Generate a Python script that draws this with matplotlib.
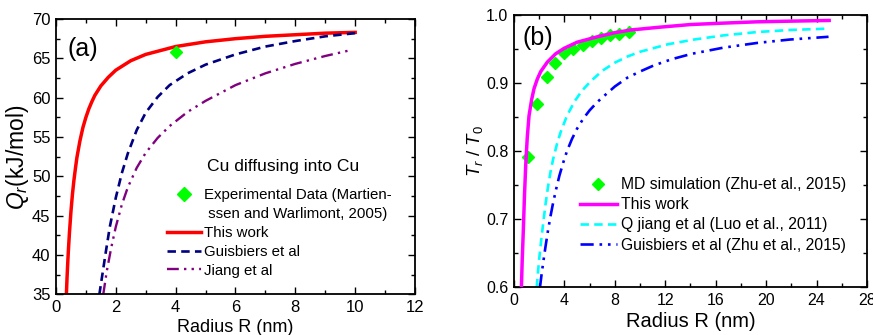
import numpy as np
import matplotlib
matplotlib.use('Agg')
import matplotlib.pyplot as plt
from matplotlib.lines import Line2D
from matplotlib.ticker import MultipleLocator, FormatStrFormatter

plt.rcParams['font.family'] = ['Liberation Sans', 'DejaVu Sans']
plt.rcParams['mathtext.fontset'] = 'custom'
plt.rcParams['mathtext.rm'] = 'Liberation Sans'
plt.rcParams['mathtext.it'] = 'Liberation Sans:italic'

# ---- panel (a): activation energy vs radius ----
R_this_a = [0.34, 0.37, 0.4, 0.42, 0.45, 0.5, 0.55, 0.6, 0.65, 0.7, 0.8, 0.9, 1.0, 1.1, 1.2, 1.3,
            1.5, 1.75, 2.0, 2.5, 3.0, 4.0, 5.0, 6.0, 7.0, 8.0, 9.0, 10.0]
Q_this_a = [34.2, 37.1, 39.5, 40.9, 42.8, 45.5, 47.7, 49.5, 51.0, 52.4, 54.5, 56.2, 57.5, 58.6, 59.5, 60.3,
            61.5, 62.6, 63.5, 64.7, 65.5, 66.5, 67.1, 67.5, 67.8, 68.0, 68.2, 68.3]
R_guis_a = [1.45, 1.55, 1.67, 1.8, 2.0, 2.2, 2.4, 2.7, 3.0, 3.4, 3.8, 4.4, 5.0, 6.0, 7.0, 8.0, 9.0, 10.0]
Q_guis_a = [35.0, 37.5, 40.5, 43.6, 47.3, 50.4, 52.9, 55.9, 58.1, 60.1, 61.6, 63.1, 64.2, 65.5, 66.5, 67.2, 67.8, 68.2]
R_jiang_a = [1.58, 1.7, 1.85, 2.0, 2.2, 2.4, 2.7, 3.0, 3.4, 3.8, 4.4, 5.0, 6.0, 7.0, 8.0, 9.0, 9.8]
Q_jiang_a = [35.0, 38.0, 41.0, 43.6, 46.4, 48.6, 51.1, 53.0, 54.9, 56.4, 58.2, 59.6, 61.6, 63.1, 64.3, 65.3, 66.0]
R_exp_a = [4.0]
Q_exp_a = [65.8]

# ---- panel (b): melting temperature ratio vs radius ----
R_md = [1.09, 1.85, 2.59, 3.25, 3.97, 4.71, 5.45, 6.16, 6.88, 7.62, 8.36, 9.10]
T_md = [0.791, 0.870, 0.909, 0.930, 0.944, 0.950, 0.956, 0.962, 0.966, 0.970, 0.972, 0.975]
R_this_b = [0.58, 0.65, 0.74, 0.83, 0.93, 1.05, 1.19, 1.4, 1.59, 1.85, 2.12, 2.65, 3.3, 3.97, 5.0,
            6.61, 8.0, 9.26, 11.5, 14.0, 16.5, 19.3, 22.0, 25.0]
T_this_b = [0.596, 0.64, 0.685, 0.735, 0.78, 0.82, 0.852, 0.876, 0.892, 0.906, 0.917, 0.931, 0.943, 0.951, 0.960,
            0.968, 0.974, 0.978, 0.982, 0.986, 0.988, 0.990, 0.991, 0.992]
R_jiang_b = [1.8, 1.9, 2.0, 2.15, 2.3, 2.5, 2.7, 2.9, 3.1, 3.4, 3.7, 4.2, 4.8, 5.4, 6.1, 7.0, 8.0, 9.0,
             10.0, 12.2, 14.3, 16.6, 19.3, 21.9, 24.9]
T_jiang_b = [0.600, 0.622, 0.642, 0.668, 0.692, 0.722, 0.748, 0.770, 0.788, 0.810, 0.828, 0.852, 0.873, 0.889,
             0.903, 0.918, 0.930, 0.939, 0.946, 0.957, 0.964, 0.970, 0.975, 0.978, 0.980]
R_guis_b = [2.06, 2.2, 2.35, 2.5, 2.7, 2.9, 3.1, 3.35, 3.6, 3.9, 4.2, 4.6, 5.0, 5.5, 6.0, 6.6, 7.2, 8.0,
            9.0, 10.0, 11.1, 12.5, 14.1, 16.6, 19.3, 21.9, 24.95]
T_guis_b = [0.600, 0.621, 0.641, 0.660, 0.684, 0.705, 0.724, 0.745, 0.764, 0.783, 0.800, 0.818, 0.833, 0.848,
            0.860, 0.872, 0.882, 0.895, 0.908, 0.917, 0.926, 0.935, 0.943, 0.952, 0.959, 0.964, 0.968]

fig = plt.figure(figsize=(8.73, 3.35), dpi=100)
axa = fig.add_axes([0.0641, 0.1209, 0.4113, 0.8224])
axb = fig.add_axes([0.5888, 0.1424, 0.4043, 0.8128])

dash = (0, (3.2, 2.0))
dashdotdot = (0, (5, 2.2, 1, 2.2, 1, 2.2))


def style_axes(ax, fs):
   ax.tick_params(which='both', direction='in', top=True, right=True, labelsize=fs, pad=4)
   ax.tick_params(which='major', length=5, width=1)
   ax.tick_params(which='minor', length=3, width=1)
   for s in ax.spines.values():
      s.set_linewidth(1.3)


# panel (a)
axa.plot(R_this_a, Q_this_a, color='#ff0000', lw=2.5)
axa.plot(R_guis_a, Q_guis_a, color='#000080', lw=1.9, ls=dash)
axa.plot(R_jiang_a, Q_jiang_a, color='#800080', lw=1.7, ls=dashdotdot)
axa.plot(R_exp_a, Q_exp_a, ls='none', marker='D', ms=6.5, color='#00ff00')
axa.set_xlim(0, 12)
axa.set_ylim(35, 70)
axa.xaxis.set_major_locator(MultipleLocator(2))
axa.xaxis.set_minor_locator(MultipleLocator(1))
axa.yaxis.set_major_locator(MultipleLocator(5))
axa.yaxis.set_minor_locator(MultipleLocator(2.5))
style_axes(axa, 12)
axa.set_xlabel('Radius R (nm)', fontsize=13, labelpad=3)
axa.set_ylabel('$Q_r$(kJ/mol)', fontsize=16.5, labelpad=1)
axa.text(0.031, 0.89, '(a)', transform=axa.transAxes, fontsize=18, va='center')
axa.text(0.632, 0.466, 'Cu diffusing into Cu', transform=axa.transAxes, fontsize=12.6,
         ha='center', va='center')

ha = [Line2D([], [], ls='none', marker='D', ms=7, color='#00ff00'),
      Line2D([], [], ls='none'),
      Line2D([], [], color='#ff0000', lw=2.5),
      Line2D([], [], color='#000080', lw=1.9, ls=dash),
      Line2D([], [], color='#800080', lw=1.7, ls=dashdotdot)]
la = ['Experimental Data (Martien-', ' ssen and Warlimont, 2005)', 'This work', 'Guisbiers et al', 'Jiang et al']
axa.legend(ha, la, loc='upper left', bbox_to_anchor=(0.308, 0.385), frameon=False,
           fontsize=10.8, handlelength=2.27, handletextpad=0.2, labelspacing=0.32,
           borderpad=0, borderaxespad=0)

# panel (b)
axb.plot(R_this_b, T_this_b, color='#ff00ff', lw=2.5, label='This work', zorder=3)
axb.plot(R_jiang_b, T_jiang_b, color='#00ffff', lw=1.9, ls=dash, label='Q jiang et al (Luo et al., 2011)')
axb.plot(R_guis_b, T_guis_b, color='#0000ff', lw=1.9, ls=dashdotdot, label='Guisbiers et al (Zhu et al., 2015)')
axb.plot(R_md, T_md, ls='none', marker='D', ms=6, color='#00ff00', label='MD simulation (Zhu-et al., 2015)', zorder=2)
axb.set_xlim(0, 28)
axb.set_ylim(0.6, 1.0)
axb.xaxis.set_major_locator(MultipleLocator(4))
axb.xaxis.set_minor_locator(MultipleLocator(2))
axb.yaxis.set_major_locator(MultipleLocator(0.1))
axb.yaxis.set_minor_locator(MultipleLocator(0.05))
axb.yaxis.set_major_formatter(FormatStrFormatter('%.1f'))
style_axes(axb, 11.5)
axb.set_xlabel('Radius R (nm)', fontsize=14.5, labelpad=3)
axb.set_ylabel('$T_r$ / $T_0$', fontsize=13.5, labelpad=1)
axb.text(0.024, 0.915, '(b)', transform=axb.transAxes, fontsize=18, va='center')

hb, lb = axb.get_legend_handles_labels()
order = [3, 0, 1, 2]
axb.legend([hb[i] for i in order], [lb[i] for i in order], loc='upper left',
           bbox_to_anchor=(0.187, 0.405), frameon=False, fontsize=11.3,
           handlelength=2.35, handletextpad=0.25, labelspacing=0.33,
           borderpad=0, borderaxespad=0)

fig.savefig('out.png', dpi=100)
